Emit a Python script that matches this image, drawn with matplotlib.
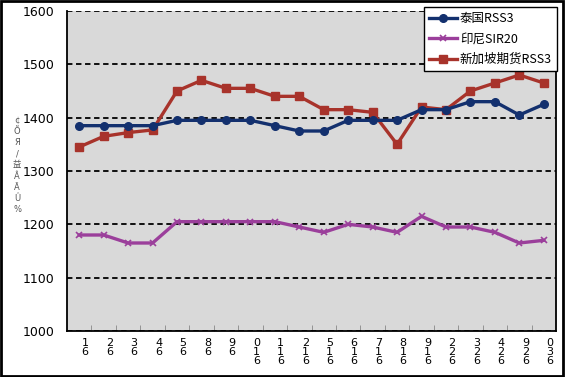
import matplotlib
matplotlib.use("Agg")
import matplotlib.pyplot as plt
import matplotlib.transforms as mtransforms
from matplotlib.patches import Rectangle

plt.rcParams['font.family'] = ['Noto Sans CJK SC', 'DejaVu Sans']

# ---- data ----
x_labels = ["1\n6", "2\n6", "3\n6", "4\n6", "5\n6", "8\n6", "9\n6", "0\n1\n6", "1\n1\n6", "2\n1\n6",
            "5\n1\n6", "6\n1\n6", "7\n1\n6", "8\n1\n6", "9\n1\n6", "2\n2\n6", "3\n2\n6", "4\n2\n6",
            "9\n2\n6", "0\n3\n6"]
thai_rss3 = [1385, 1385, 1385, 1385, 1395, 1395, 1395, 1395, 1385, 1375,
             1375, 1395, 1395, 1395, 1415, 1415, 1430, 1430, 1405, 1425]
indo_sir20 = [1180, 1180, 1165, 1165, 1205, 1205, 1205, 1205, 1205, 1195,
              1185, 1200, 1195, 1185, 1215, 1195, 1195, 1185, 1165, 1170]
sg_rss3 = [1345, 1365, 1372, 1377, 1450, 1470, 1455, 1455, 1440, 1440,
           1415, 1415, 1410, 1350, 1420, 1415, 1450, 1465, 1480, 1465]
series_names = ["泰国RSS3", "印尼SIR20", "新加坡期货RSS3"]
y_ticks = [1000, 1100, 1200, 1300, 1400, 1500, 1600]
y_label = "¢\nÕ\nЯ\n/\n益\nÂ\nÃ\nÛ\n%"

W, H = 565, 377
fig = plt.figure(figsize=(W / 100, H / 100), dpi=100)
fig.patch.set_facecolor("white")
ax = fig.add_axes([67 / W, 1 - 331 / H, (556 - 67) / W, (331 - 11) / H])
ax.set_facecolor("#d9d9d9")

xs = list(range(len(x_labels)))
ax.plot(xs, indo_sir20, color="#9b3f9b", lw=2.4, marker="x", ms=5, mew=1.2,
        label=series_names[1], zorder=3)
ax.plot(xs, sg_rss3, color="#a8332b", lw=2.4, marker="s", ms=5.5,
        label=series_names[2], zorder=4)
ax.plot(xs, thai_rss3, color="#13306e", lw=2.4, marker="o", ms=5.5,
        label=series_names[0], zorder=5)

ax.set_xlim(-0.5, len(x_labels) - 0.5)
ax.set_ylim(1000, 1600)
ax.set_yticks(y_ticks)
ax.set_yticklabels([str(v) for v in y_ticks], fontsize=9, family="DejaVu Sans")
ax.tick_params(axis="y", length=0, pad=9)

ax.set_xticks(xs)
ax.set_xticklabels(x_labels, fontsize=8, linespacing=0.85, family="DejaVu Sans")
ax.tick_params(axis="x", length=0, pad=5)
offset = mtransforms.ScaledTranslation(6 / 100, 0, fig.dpi_scale_trans)
for lab in ax.get_xticklabels():
    lab.set_transform(lab.get_transform() + offset)
ax.set_xticks([i + 0.5 for i in xs[:-1]], minor=True)
ax.tick_params(axis="x", which="minor", direction="in", length=4, color="#888888")

ax.yaxis.grid(True, color="black", linestyle=(0, (3, 2)), lw=1.3)
ax.set_axisbelow(True)
for s in ["left", "bottom", "right"]:
    ax.spines[s].set_color("black")
    ax.spines[s].set_linewidth(1.3)
ax.spines["top"].set_visible(False)

fig.text(17 / W, 1 - 165 / H, y_label, fontsize=6, color="#555555",
         ha="center", va="center", linespacing=1.3, family=["DejaVu Sans", "Noto Sans CJK SC"])

handles, labels = ax.get_legend_handles_labels()
order = [2, 0, 1]
leg = ax.legend([handles[i] for i in order], [labels[i] for i in order],
                loc="upper right", bbox_to_anchor=(557 / W, 1 - 7 / H),
                bbox_transform=fig.transFigure, fontsize=9, frameon=True,
                fancybox=False, edgecolor="black", framealpha=1,
                handlelength=2.3, labelspacing=0.6, borderpad=0.4,
                handletextpad=0.2, borderaxespad=0)
leg.get_frame().set_linewidth(1.0)

fig.patches.append(Rectangle((0.002, 0.003), 0.994, 0.994, transform=fig.transFigure,
                             fill=False, edgecolor="black", lw=2))

fig.savefig("out.png", dpi=100)
